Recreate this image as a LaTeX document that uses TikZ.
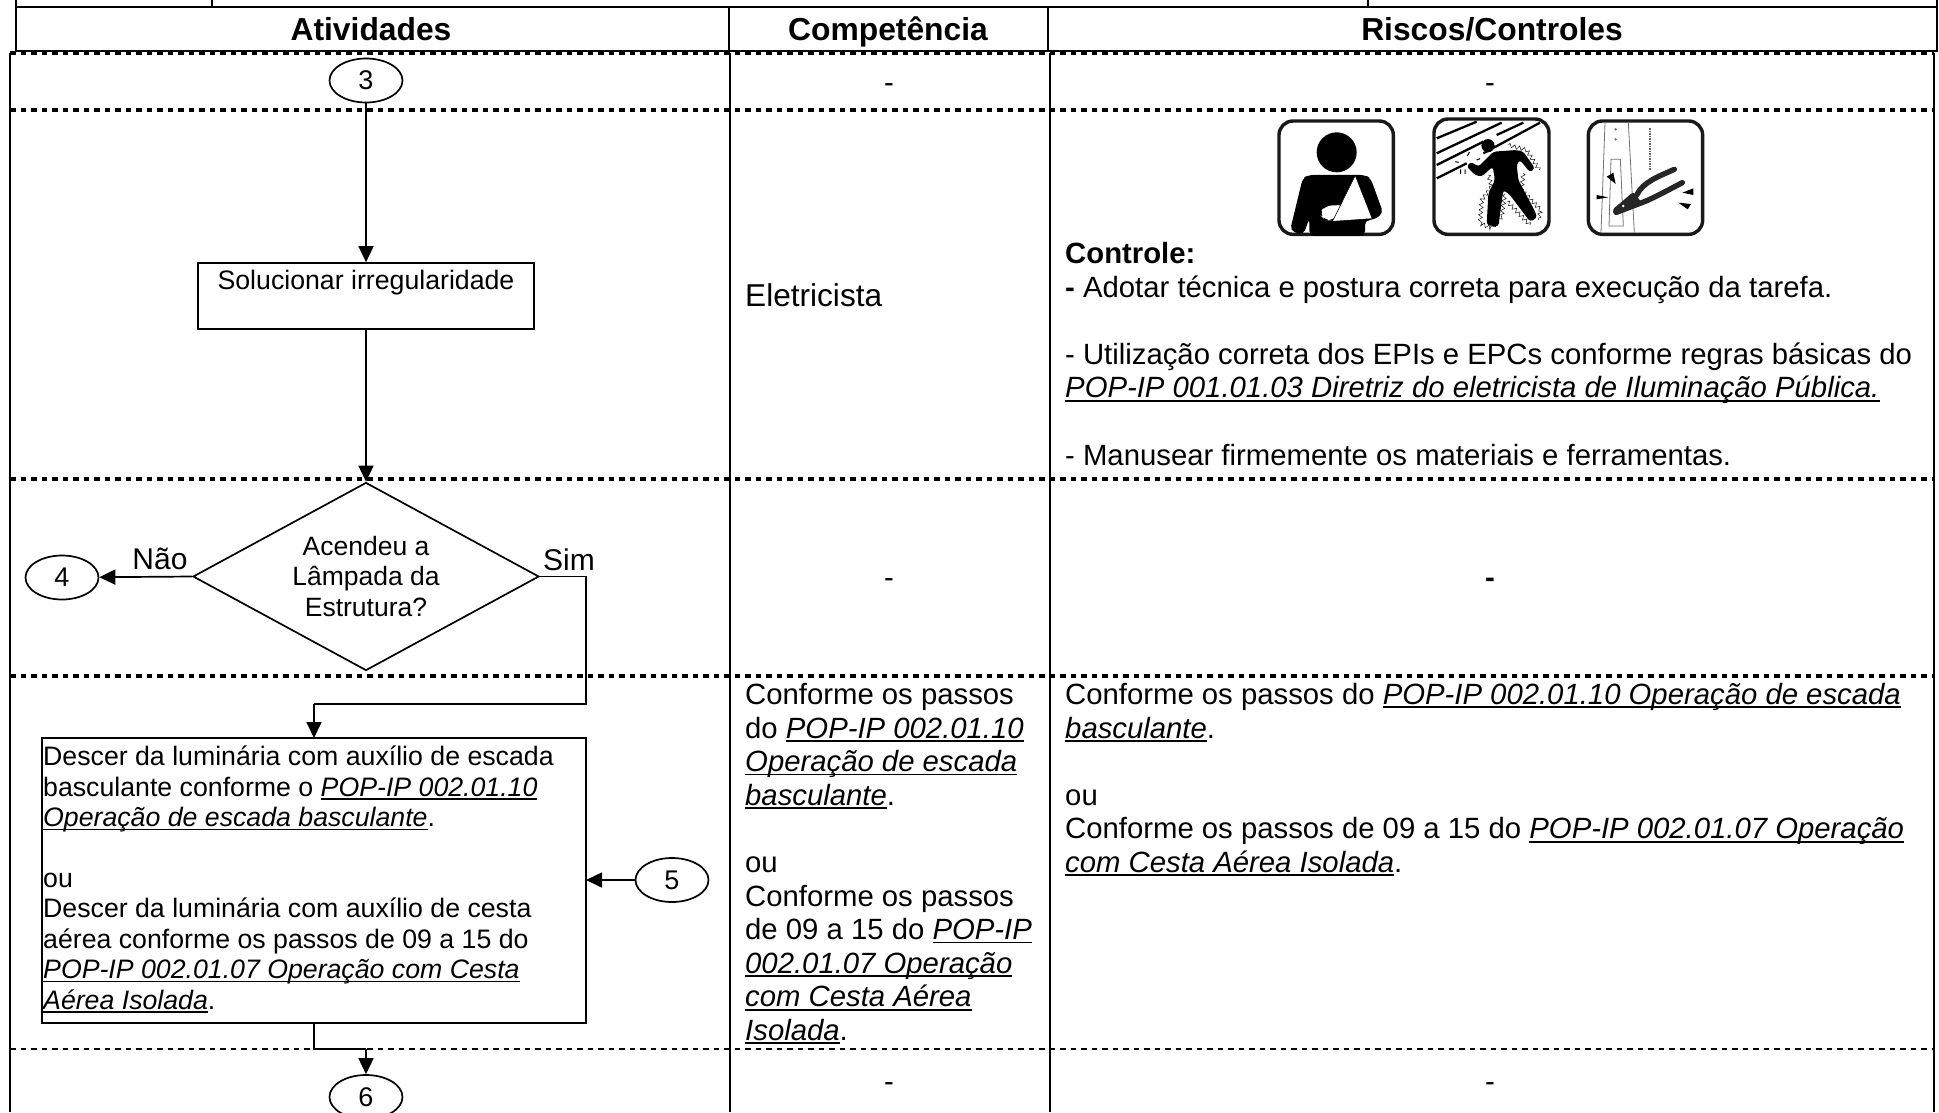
\documentclass[tikz,border=0pt]{standalone}
\usepackage{fontspec}
\setmainfont{Liberation Sans}
\usetikzlibrary{arrows.meta,shapes.geometric,decorations.pathmorphing}
\newsavebox{\ulbox}
\newcommand{\popl}[1]{\sbox{\ulbox}{\textit{#1}}\leavevmode\rlap{\rule[-3.8pt]{\wd\ulbox}{1.8pt}}\usebox{\ulbox}}
\tikzset{
  rule/.style={line width=2pt,black},
  headrule/.style={line width=2.6pt,black},
  dashrule/.style={line width=3.2pt,black,dash pattern=on 5.5pt off 5pt},
  flow/.style={line width=1.7pt,black},
  arr/.style={flow,-{Triangle[length=16pt,width=15pt]}},
  conn/.style={draw,ellipse,line width=1.7pt,minimum width=73pt,minimum height=44pt,inner sep=0pt,font=\fontsize{27}{30}\selectfont},
  proc/.style={draw,rectangle,line width=1.7pt,inner sep=0pt},
  deci/.style={draw,diamond,aspect=1.84,line width=1.7pt,minimum width=346pt,minimum height=188pt,inner sep=0pt,align=center,font=\fontsize{26.5}{30.4}\selectfont},
  headtxt/.style={font=\fontsize{31.8}{34}\bfseries\selectfont,inner sep=0pt,anchor=base},
  cell/.style={font=\fontsize{29.3}{33.6}\selectfont,inner sep=0pt,align=left,anchor=north west},
  acttxt/.style={font=\fontsize{26.7}{30.4}\selectfont,inner sep=0pt,align=left,anchor=north west},
  lab/.style={font=\fontsize{30}{34}\selectfont,inner sep=0pt},
  iconframe/.style={draw=black!90,line width=3.4pt,rounded corners=14pt,fill=white},
  thinl/.style={line width=.8pt,black!55},
  stripe/.style={line width=2.3pt,black},
  spark/.style={line width=.45pt,black,decorate,decoration={zigzag,segment length=5pt,amplitude=2pt}}
}
\begin{document}
\begin{tikzpicture}[x=1pt,y=-1pt]
\useasboundingbox (0,0) rectangle (1939,1112);
\fill[white] (0,0) rectangle (1939,1112);
% header
\draw[headrule] (16,0) -- (16,51) -- (1937,51) -- (1937,0);
\draw[headrule] (16,7) -- (1937,7);
\draw[rule] (212,0) -- (212,7);
\draw[rule] (1368,0) -- (1368,7);
\draw[rule] (729,7) -- (729,51);
\draw[rule] (1048,7) -- (1048,51);
\node[headtxt] (h1) at (371,40) {Atividades};
\node[headtxt] (h2) at (888,40) {Competência};
\node[headtxt] (h3) at (1492,40) {Riscos/Controles};
% body frame
\draw[rule] (10,53) -- (10,1112);
\draw[rule] (730,53) -- (730,1112);
\draw[rule] (1050,53) -- (1050,1112);
\draw[rule] (1934,53) -- (1934,1112);
% row rules
\draw[dashrule] (10,53) -- (1934,53);
\draw[dashrule] (10,110) -- (1934,110);
\draw[dashrule] (10,479) -- (1934,479);
\draw[dashrule] (10,676) -- (1934,676);
\draw[line width=2.2pt,dash pattern=on 5.5pt off 5pt] (10,1049) -- (1934,1049);
% flow nodes
\node[conn] (c3) at (366,80.5) {3};
\node[proc,minimum width=336pt,minimum height=66pt] (sol) at (366,296) {};
\node[font=\fontsize{26.7}{30}\selectfont,inner sep=0pt] (soltxt) at (366,283) {Solucionar irregularidade};
\node[deci] (dia) at (366,576.5) {Acendeu a\\Lâmpada da\\Estrutura?};
\node[conn] (c4) at (62,577.5) {4};
\node[lab] (nao) at (160,559) {Não};
\node[lab] (sim) at (569,560) {Sim};
\node[proc,minimum width=544pt,minimum height=285pt] (act) at (314,880.5) {};
\node[acttxt] (acttext) at (43,746) {Descer da luminária com auxílio de escada\\
basculante conforme o \popl{POP-IP 002.01.10}\\
\popl{Operação de escada basculante}.\\
~\\
ou\\
Descer da luminária com auxílio de cesta\\
aérea conforme os passos de 09 a 15 do\\
\popl{POP-IP 002.01.07 Operação com Cesta}\\
\popl{Aérea Isolada}.};
\node[conn] (c5) at (672,880) {5};
\node[conn] (c6) at (366,1097) {6};
\coordinate (e1) at (586,704);
\coordinate (e2) at (314,704);
\coordinate (acttop) at (314,738);
\coordinate (actright) at (586,880);
\coordinate (actbot) at (314,1023);
\coordinate (e3) at (314,1049);
\coordinate (e4) at (366,1049);
% connectors
\draw[arr] (c3) -- (sol);
\draw[arr] (sol) -- (dia.north);
\draw[arr] (dia.west) -- (c4);
\draw[flow] (dia.east) -| (e1) -- (e2);
\draw[arr] (e2) -- (acttop);
\draw[arr] (c5) -- (actright);
\draw[flow] (actbot) -- (e3) -- (e4);
\draw[arr] (e4) -- (c6);
% cells
\node[lab,font=\fontsize{29.3}{33.6}\selectfont] (d1) at (889,88) {-};
\node[lab,font=\fontsize{29.3}{33.6}\selectfont] (d2) at (1490,88) {-};
\node[lab,font=\fontsize{31.6}{33.6}\selectfont,anchor=west] (el) at (745,295) {Eletricista};
\node[lab,font=\fontsize{29.3}{33.6}\selectfont] (d3) at (889,583) {-};
\node[lab,font=\fontsize{29.3}{33.6}\bfseries\selectfont] (d4) at (1490,583) {-};
\node[cell] (comp) at (745,683) {Conforme os passos\\
do \popl{POP-IP 002.01.10}\\
\popl{Operação de escada}\\
\popl{basculante}.\\
~\\
ou\\
Conforme os passos\\
de 09 a 15 do \popl{POP-IP}\\
\popl{002.01.07 Operação}\\
\popl{com Cesta Aérea}\\
\popl{Isolada}.};
\node[cell] (risk) at (1065,683) {Conforme os passos do \popl{POP-IP 002.01.10 Operação de escada}\\
\popl{basculante}.\\
~\\
ou\\
Conforme os passos de 09 a 15 do \popl{POP-IP 002.01.07 Operação}\\
\popl{com Cesta Aérea Isolada}.};
\node[cell] (ctrl) at (1065,242) {\textbf{Controle:}\\
\textbf{-} Adotar técnica e postura correta para execução da tarefa.\\
~\\
- Utilização correta dos EPIs e EPCs conforme regras básicas do\\
\popl{POP-IP 001.01.03 Diretriz do eletricista de Iluminação Pública.}\\
~\\
- Manusear firmemente os materiais e ferramentas.};
\node[lab,font=\fontsize{29.3}{33.6}\selectfont] (d5) at (889,1087) {-};
\node[lab,font=\fontsize{29.3}{33.6}\selectfont] (d6) at (1490,1087) {-};
% icon 1
\begin{scope}[shift={(1270,110)},x=0.3333pt,y=-0.3333pt]
  \draw[iconframe] (27,33) rectangle (370,373);
  \fill (200,127) circle (20pt);
  \fill[rounded corners=5pt] (60,362) -- (98,205) -- (115,195) -- (285,195) -- (302,205) -- (340,310) -- (310,330) -- (285,330) -- (285,378) -- (118,378) -- (118,325) -- (100,375) -- cycle;
  \fill[white] (255,198) -- (188,333) -- (305,325) -- cycle;
  \fill[white,rounded corners=7pt] (148,312) -- (165,287) -- (225,285) -- (190,332) -- (165,330) -- cycle;
  \draw[line width=.5pt] (255,198) -- (187,335);
\end{scope}
% icon 2
\begin{scope}[shift={(1420,110)},x=0.3333pt,y=-0.3333pt]
  \draw[iconframe] (42,27) rectangle (387,373);
  \draw[stripe] (50,85) -- (170,35);
  \draw[stripe] (50,130) -- (245,38);
  \draw[stripe] (50,165) -- (190,95) (230,75) -- (310,38);
  \draw[stripe] (50,205) -- (140,160) (190,130) -- (360,38);
  \fill (204,107) circle (6.6pt);
  \fill[rounded corners=3pt] (140,170) -- (152,155) -- (175,170) -- (220,125) -- (290,120) -- (310,125) -- (345,175) -- (330,187) -- (300,150) -- (290,162) -- (295,210) -- (348,310) -- (350,325) -- (330,335) -- (270,255) -- (250,240) -- (235,350) -- (200,345) -- (205,250) -- (225,210) -- (218,170) -- (185,200) -- (165,195) -- cycle;
  \draw[spark] (265,105) -- (320,120) -- (358,180);
  \draw[spark] (310,190) -- (305,240) -- (362,300) -- (355,330);
  \draw[spark] (262,275) -- (330,345);
  \draw[spark] (205,195) -- (215,230) -- (185,270) -- (180,340) -- (215,355) -- (245,320) -- (255,250);
  \draw[line width=1pt] (106,155) -- (116,157) (142,138) -- (148,126) (170,150) -- (180,146) (122,178) -- (122,192) (135,178) -- (135,192);
\end{scope}
% icon 3
\begin{scope}[shift={(1575,110)},x=0.3333pt,y=-0.3333pt]
  \draw[iconframe] (40,33) rectangle (383,373);
  \draw[thinl] (90,38) -- (78,368) (160,38) -- (178,368);
  \draw[thinl] (108,148) -- (136,148) -- (145,348) -- (102,348) -- cycle;
  \fill[black!55] (122,58) circle (1.4pt) (122,88) circle (1.4pt);
  \draw[line width=1.2pt,black!60,dash pattern=on 1.5pt off 1pt] (225,55) -- (225,180);
  \fill (95,200) -- (115,188) -- (122,222) -- cycle;
  \fill (65,255) -- (100,262) -- (65,268) -- cycle;
  \fill (322,248) -- (355,235) -- (355,255) -- cycle;
  \fill (310,278) -- (348,282) -- (338,298) -- cycle;
  \draw[line width=5.4pt,line cap=round,black!85] (185,255) .. controls (205,215) and (250,200) .. (298,178);
  \draw[line width=5.4pt,line cap=round,black!85] (195,280) .. controls (225,270) and (270,245) .. (322,218);
  \fill[black!85,rounded corners=3pt] (112,298) -- (135,280) -- (175,245) -- (205,285) -- (160,302) -- (118,318) -- cycle;
  \fill[white] (145,288) circle (1.4pt);
\end{scope}
\end{tikzpicture}
\end{document}
